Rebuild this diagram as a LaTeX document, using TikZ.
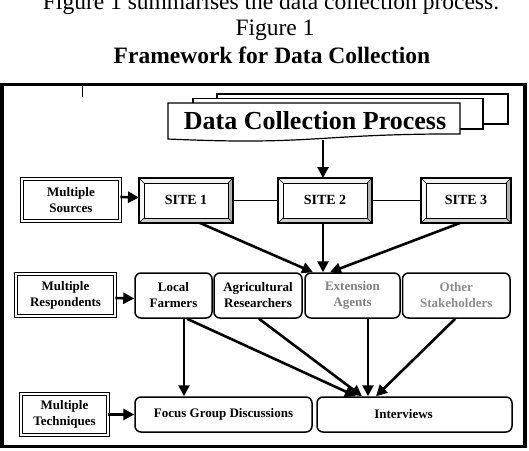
\documentclass[tikz,border=0pt]{standalone}
\usepackage{fontspec}
\setmainfont{Liberation Serif}
\usetikzlibrary{arrows.meta}
\begin{document}
\begin{tikzpicture}[x=1pt,y=-1pt,
  ttl/.style={font=\fontsize{23.5}{28}\selectfont, anchor=base, inner sep=0pt},
  dblbox/.style={draw, double, double distance=1.8pt, line width=0.8pt, align=center, inner sep=0pt, font=\bfseries\fontsize{13}{16}\selectfont},
  sitebox/.style={draw, line width=1.4pt, minimum height=45pt, inner sep=0pt, outer sep=0pt, font=\bfseries\fontsize{14}{16}\selectfont,
    path picture={
      \path (path picture bounding box.north west) coordinate (bA)
            (path picture bounding box.north east) coordinate (bB)
            (path picture bounding box.south east) coordinate (bC)
            (path picture bounding box.south west) coordinate (bD);
      \path ([shift={(5,5)}]bA) coordinate (iA) ([shift={(-5,5)}]bB) coordinate (iB)
            ([shift={(-5,-5)}]bC) coordinate (iC) ([shift={(5,-5)}]bD) coordinate (iD);
      \fill[gray!12] (bA)--(bB)--(iB)--(iA)--cycle;
      \fill[gray!6] (bA)--(iA)--(iD)--(bD)--cycle;
      \fill[gray!60] (bB)--(bC)--(iC)--(iB)--cycle;
      \fill[gray!38] (bD)--(iD)--(iC)--(bC)--cycle;
      \draw[line width=0.5pt] (bA)--(iA) (bB)--(iB) (bC)--(iC) (bD)--(iD);
      \draw[line width=0.7pt, fill=white] (iA) rectangle (iC);
    }},
  rbox/.style={draw, line width=1.5pt, rounded corners=6pt, minimum height=45pt, inner sep=0pt, align=center, font=\bfseries\fontsize{13}{16}\selectfont},
  arr/.style={line width=2.6pt, -{Triangle[length=11pt,width=11pt]}},
  link/.style={line width=1.3pt},
  doc/.style={draw, line width=1.2pt, fill=white}
]
\clip (0,0) rectangle (529,450);
\fill[white] (0,0) rectangle (529,450);

% titles
\node[ttl] (t1) at (271,9) {Figure 1 summarises the data collection process.};
\node[ttl] (t2) at (275,35) {Figure 1};
\node[ttl, font=\bfseries\fontsize{23.5}{28}\selectfont] (t3) at (272,63) {Framework for Data Collection};

% outer frame
\draw[line width=3.5pt] (2,84.5) rectangle (525,446.5);
\draw[line width=0.6pt] (82,84.5) -- (82,97);

% multidocument
\draw[doc] (217,94) rectangle (508,124);
\draw[doc] (193,98.5) rectangle (483,129);
\draw[doc] (168,103) -- (460,103) -- (460,133.9) .. controls (314,133.9) and (314,145.6) .. (168,139) -- cycle;
\node[font=\bfseries\fontsize{26}{30}\selectfont, anchor=base, inner sep=0pt] (dcp) at (315,129) {Data Collection Process};
\coordinate (dcpb) at (323,139.5);

% row 1
\node[dblbox, minimum width=98pt, minimum height=42pt] (ms) at (71,200) {Multiple\\Sources};
\node[sitebox, minimum width=94pt] (site1) at (186,200.5) {\raisebox{2pt}{SITE 1}};
\node[sitebox, minimum width=94pt] (site2) at (325,200.5) {\raisebox{2pt}{SITE 2}};
\node[sitebox, minimum width=90pt] (site3) at (466,200.5) {\raisebox{2pt}{SITE 3}};

% row 2
\node[dblbox, minimum width=99pt, minimum height=42pt] (mr) at (65.5,295) {Multiple\\Respondents};
\node[rbox, minimum width=77pt] (lf) at (173.5,295.5) {Local\\Farmers};
\node[rbox, minimum width=88pt] (ar) at (258,295.5) {Agricultural\\Researchers};
\node[rbox, minimum width=95pt, text=black!50] (ea) at (352.5,295.5) {Extension\\Agents};
\node[rbox, minimum width=107.5pt, text=black!45] (os) at (456.25,295.5) {Other\\Stakeholders};

% row 3
\node[dblbox, minimum width=87pt, minimum height=41pt] (mt) at (64.5,414.5) {Multiple\\Techniques};
\node[rbox, minimum width=177pt, minimum height=35pt] (fg) at (223.5,414.5) {\raisebox{3pt}{Focus Group Discussions}};
\node[rbox, minimum width=195pt, minimum height=35pt] (iv) at (414.5,414.5) {\hspace*{-22pt}Interviews};

% connectors
\draw[arr] (dcpb) -- (dcpb |- site2.north);
\draw[arr] ([yshift=3pt]ms.east) -- ([yshift=3pt]site1.west);
\draw[link] (site1.east) -- (site2.west);
\draw[link] (site2.east) -- (site3.west);
\draw[arr] ([xshift=14pt]site1.south) -- ([xshift=-39.5pt]ea.north);
\draw[arr] ([xshift=-2pt]site2.south) -- ([xshift=-29.5pt]ea.north);
\draw[arr] ([xshift=-6pt]site3.south) -- ([xshift=-22.5pt]ea.north);
\draw[arr] ([yshift=-3pt]mr.east) -- ([yshift=-3pt]lf.west);
\draw[arr] ([xshift=10.5pt]lf.south) -- ([xshift=10.5pt]lf.south |- fg.north);
\draw[arr] ([xshift=13.5pt]lf.south) -- ([xshift=-58.5pt]iv.north);
\draw[arr] ([xshift=1pt]ar.south) -- ([xshift=-52.5pt]iv.north);
\draw[arr] ([xshift=15.5pt]ea.south) -- ([xshift=-46.5pt]iv.north);
\draw[arr] ([xshift=-1pt]os.south) -- ([xshift=-38.5pt]iv.north);
\draw[arr] (mt.east) -- (fg.west);
\end{tikzpicture}
\end{document}
